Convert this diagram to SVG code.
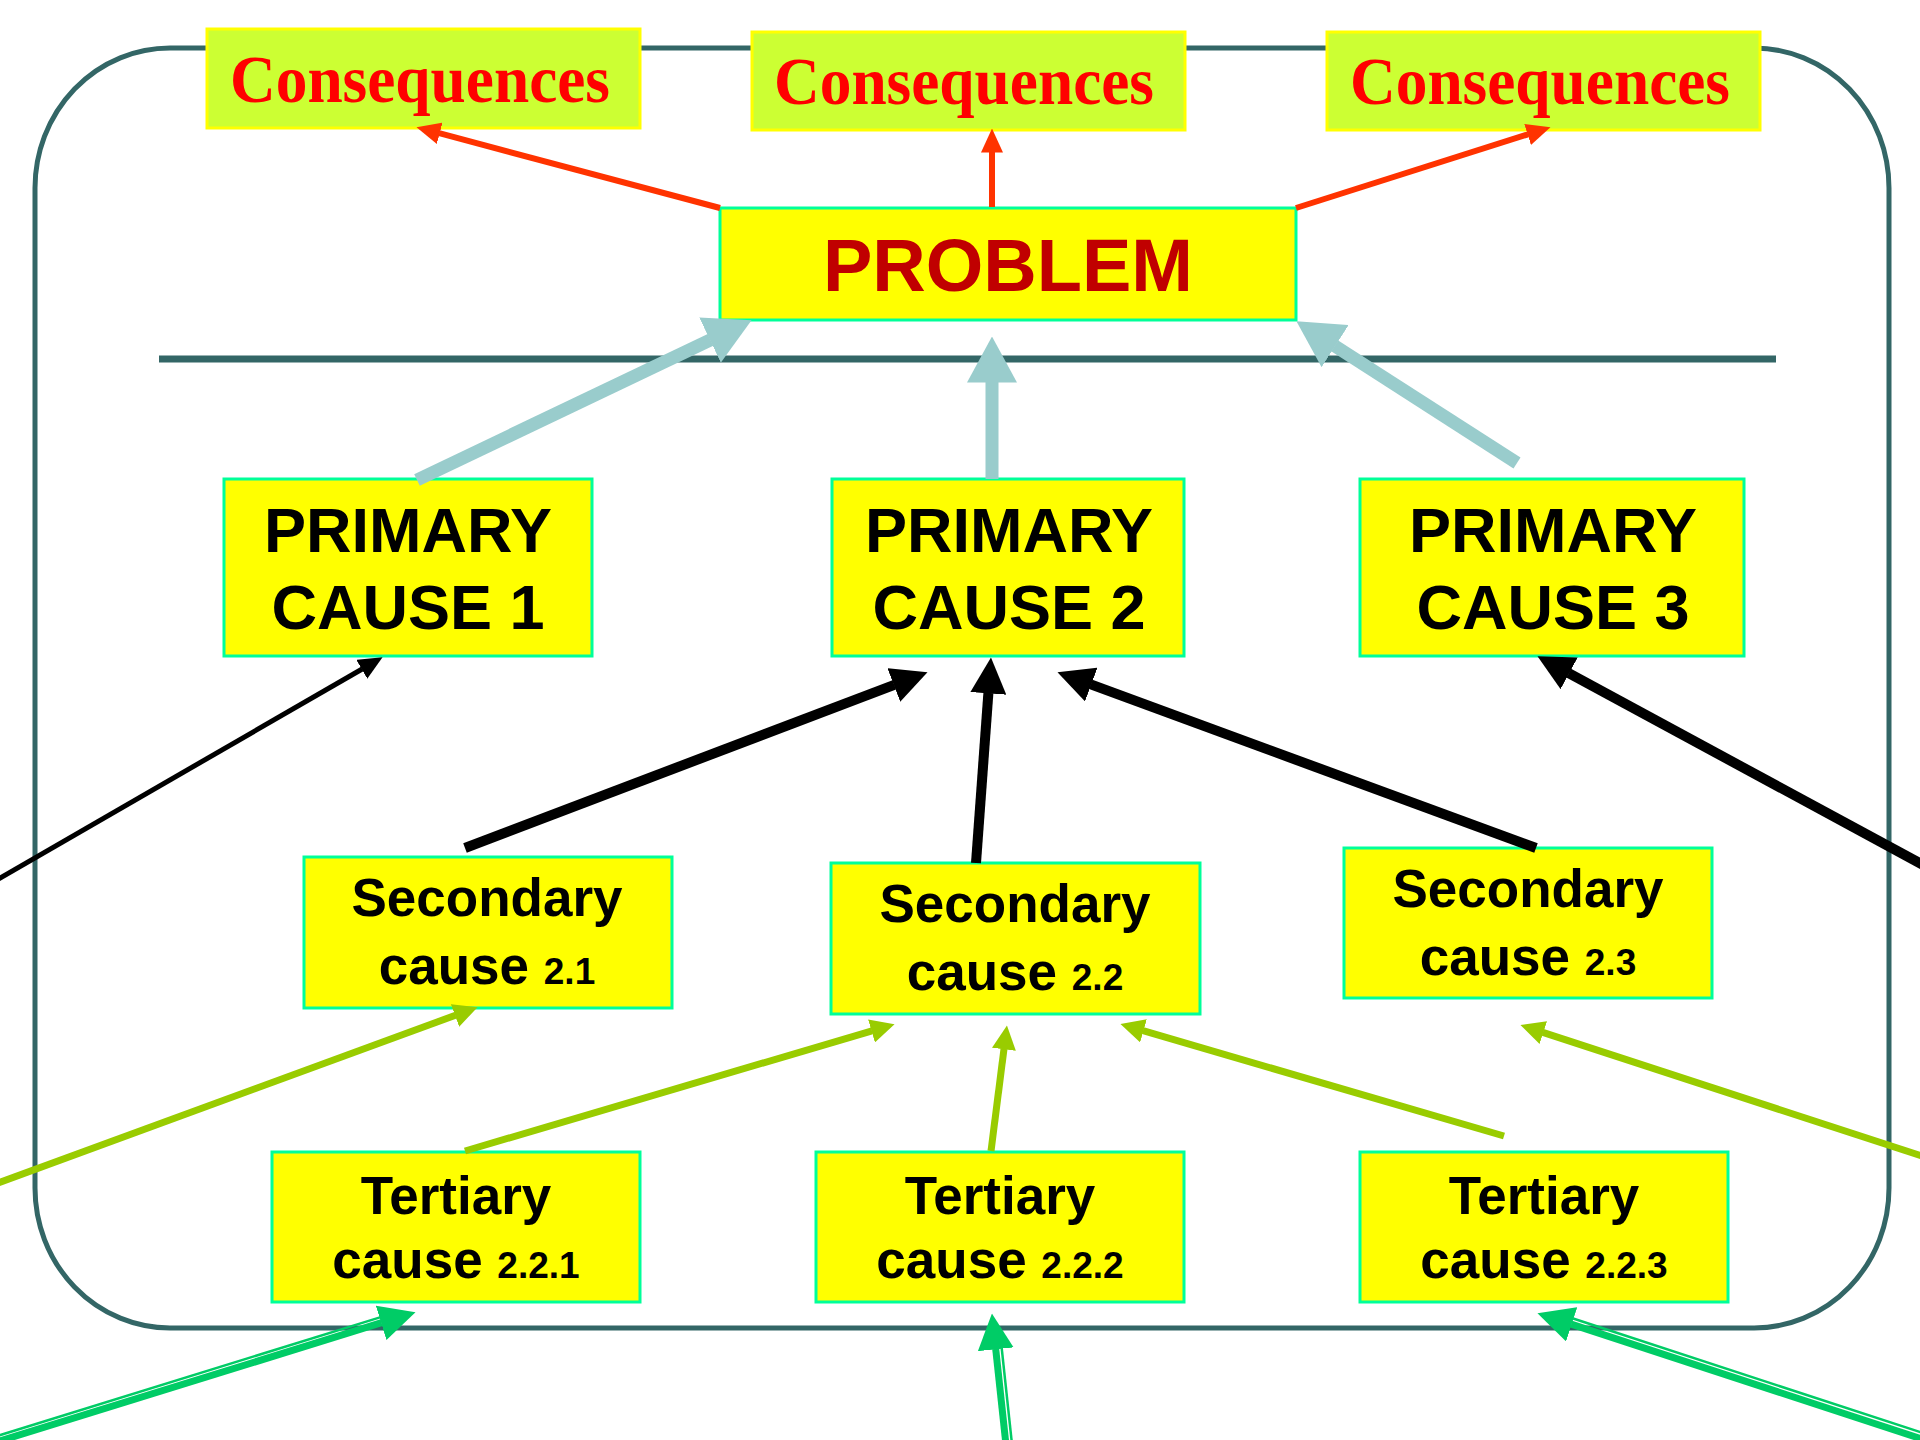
<svg xmlns="http://www.w3.org/2000/svg" width="1920" height="1440" viewBox="0 0 1920 1440">
  <style>
    .frame { fill: none; stroke: #336666; stroke-width: 5; }
    .divider { stroke: #336666; stroke-width: 7; }
    .cons rect { fill: #ccff33; stroke: #ffff00; stroke-width: 3; }
    .cons text { font-family: "Liberation Serif", "Times New Roman", serif; font-weight: bold; font-size: 67px; fill: #ff0000; text-anchor: middle; }
    .node rect { fill: #ffff00; stroke: #00ff99; stroke-width: 3; }
    .node text { font-family: "Liberation Sans", Arial, sans-serif; font-weight: bold; fill: #000000; text-anchor: middle; }
    .problem text { font-size: 74px; fill: #c00000; }
    .primary text { font-size: 63px; }
    .minor text { font-size: 53px; }
    .minor tspan.num { font-size: 37px; }
    .red { stroke: #ff3300; stroke-width: 6; marker-end: url(#ah-red); }
    .blue { stroke: #99cccc; stroke-width: 13; marker-end: url(#ah-blue); }
    .black-thin { stroke: #000000; stroke-width: 5; marker-end: url(#ah-black-s); }
    .black { stroke: #000000; stroke-width: 10; marker-end: url(#ah-black); }
    .lime { stroke: #99cc00; stroke-width: 7; marker-end: url(#ah-lime); }
    .green { stroke: #00cc66; stroke-width: 7; marker-end: url(#ah-green); }
    .green-thin { stroke: #00cc66; stroke-width: 2.5; }
  </style>
  <defs>
    <marker id="ah-red" markerUnits="userSpaceOnUse" viewBox="0 0 24 22" markerWidth="24" markerHeight="22" refX="0.5" refY="11" orient="auto">
      <path d="M0,0 L24,11 L0,22 z" fill="#ff3300"/>
    </marker>
    <marker id="ah-blue" markerUnits="userSpaceOnUse" viewBox="0 0 46 50" markerWidth="46" markerHeight="50" refX="0.5" refY="25" orient="auto">
      <path d="M0,0 L46,25 L0,50 z" fill="#99cccc"/>
    </marker>
    <marker id="ah-black-s" markerUnits="userSpaceOnUse" viewBox="0 0 24 22" markerWidth="24" markerHeight="22" refX="0.5" refY="11" orient="auto">
      <path d="M0,0 L24,11 L0,22 z" fill="#000000"/>
    </marker>
    <marker id="ah-black" markerUnits="userSpaceOnUse" viewBox="0 0 36 36" markerWidth="36" markerHeight="36" refX="0.5" refY="18" orient="auto">
      <path d="M0,0 L36,18 L0,36 z" fill="#000000"/>
    </marker>
    <marker id="ah-lime" markerUnits="userSpaceOnUse" viewBox="0 0 24 24" markerWidth="24" markerHeight="24" refX="0.5" refY="12" orient="auto">
      <path d="M0,0 L24,12 L0,24 z" fill="#99cc00"/>
    </marker>
    <marker id="ah-green" markerUnits="userSpaceOnUse" viewBox="0 0 36 36" markerWidth="36" markerHeight="36" refX="0.5" refY="18" orient="auto">
      <path d="M0,0 L36,18 L0,36 z" fill="#00cc66"/>
    </marker>
  </defs>

  <rect width="1920" height="1440" fill="#ffffff"/>

  <!-- rounded frame and the divider line under the problem -->
  <rect class="frame" x="35" y="48" width="1854" height="1280" rx="135" ry="140"/>
  <line class="divider" x1="159" y1="359" x2="1776" y2="359"/>

  <!-- consequences -->
  <g id="consequences-1" class="cons">
    <rect x="207" y="29" width="433" height="99"/>
    <text x="420" y="102" textLength="380" lengthAdjust="spacingAndGlyphs">Consequences</text>
  </g>
  <g id="consequences-2" class="cons">
    <rect x="752" y="32" width="433" height="98"/>
    <text x="964" y="104" textLength="380" lengthAdjust="spacingAndGlyphs">Consequences</text>
  </g>
  <g id="consequences-3" class="cons">
    <rect x="1327" y="32" width="433" height="98"/>
    <text x="1540" y="104" textLength="380" lengthAdjust="spacingAndGlyphs">Consequences</text>
  </g>

  <!-- problem -->
  <g id="problem" class="node problem">
    <rect x="720" y="208" width="576" height="112"/>
    <text x="1008" y="291">PROBLEM</text>
  </g>

  <!-- primary causes -->
  <g id="primary-1" class="node primary">
    <rect x="224" y="479" width="368" height="177"/>
    <text x="408" y="552">PRIMARY</text>
    <text x="408" y="629">CAUSE 1</text>
  </g>
  <g id="primary-2" class="node primary">
    <rect x="832" y="479" width="352" height="177"/>
    <text x="1009" y="552">PRIMARY</text>
    <text x="1009" y="629">CAUSE 2</text>
  </g>
  <g id="primary-3" class="node primary">
    <rect x="1360" y="479" width="384" height="177"/>
    <text x="1553" y="552">PRIMARY</text>
    <text x="1553" y="629">CAUSE 3</text>
  </g>

  <!-- secondary causes -->
  <g id="secondary-2-1" class="node minor">
    <rect x="304" y="857" width="368" height="151"/>
    <text x="487" y="916">Secondary</text>
    <text x="487" y="984">cause <tspan class="num">2.1</tspan></text>
  </g>
  <g id="secondary-2-2" class="node minor">
    <rect x="831" y="863" width="369" height="151"/>
    <text x="1015" y="922">Secondary</text>
    <text x="1015" y="990">cause <tspan class="num">2.2</tspan></text>
  </g>
  <g id="secondary-2-3" class="node minor">
    <rect x="1344" y="848" width="368" height="150"/>
    <text x="1528" y="907">Secondary</text>
    <text x="1528" y="975">cause <tspan class="num">2.3</tspan></text>
  </g>

  <!-- tertiary causes -->
  <g id="tertiary-2-2-1" class="node minor">
    <rect x="272" y="1152" width="368" height="150"/>
    <text x="456" y="1214">Tertiary</text>
    <text x="456" y="1278">cause <tspan class="num">2.2.1</tspan></text>
  </g>
  <g id="tertiary-2-2-2" class="node minor">
    <rect x="816" y="1152" width="368" height="150"/>
    <text x="1000" y="1214">Tertiary</text>
    <text x="1000" y="1278">cause <tspan class="num">2.2.2</tspan></text>
  </g>
  <g id="tertiary-2-2-3" class="node minor">
    <rect x="1360" y="1152" width="368" height="150"/>
    <text x="1544" y="1214">Tertiary</text>
    <text x="1544" y="1278">cause <tspan class="num">2.2.3</tspan></text>
  </g>

  <!-- connectors -->
  <g id="connectors">
    <!-- problem to consequences -->
    <line class="red" x1="720" y1="208" x2="439.2" y2="133.2"/>
    <line class="red" x1="992" y1="207" x2="992" y2="152"/>
    <line class="red" x1="1296" y1="208" x2="1528.1" y2="134.3"/>

    <!-- primary causes to problem -->
    <line class="blue" x1="417" y1="480" x2="710.5" y2="339.9"/>
    <line class="blue" x1="992" y1="479" x2="992" y2="382"/>
    <line class="blue" x1="1517" y1="463" x2="1334.7" y2="345.9"/>

    <!-- secondary causes to primary causes -->
    <line class="black-thin" x1="-5" y1="881" x2="362.2" y2="669"/>
    <line class="black" x1="465" y1="848" x2="894.3" y2="684.8"/>
    <line class="black" x1="976" y1="863" x2="988.4" y2="692.9"/>
    <line class="black" x1="1536" y1="848" x2="1090.8" y2="684.4"/>
    <line class="black" x1="1925" y1="866" x2="1568.7" y2="673.1"/>

    <!-- tertiary causes to secondary causes -->
    <line class="lime" x1="-5" y1="1184" x2="455.5" y2="1015.3"/>
    <line class="lime" x1="465" y1="1151" x2="872" y2="1030.8"/>
    <line class="lime" x1="991" y1="1151" x2="1004" y2="1048.8"/>
    <line class="lime" x1="1504" y1="1136" x2="1143" y2="1030.7"/>
    <line class="lime" x1="1925" y1="1157" x2="1542.8" y2="1032.4"/>

    <!-- incoming double-line arrows -->
    <line class="green-thin" x1="-11.6" y1="1438.7" x2="380" y2="1317.4"/>
    <line class="green" x1="-10" y1="1444" x2="381.6" y2="1322.7"/>
    <line class="green-thin" x1="1012" y1="1444.4" x2="1001.7" y2="1348.2"/>
    <line class="green" x1="1006" y1="1445" x2="995.7" y2="1348.8"/>
    <line class="green-thin" x1="1926.9" y1="1434.3" x2="1573.1" y2="1318.5"/>
    <line class="green" x1="1925" y1="1440" x2="1571.2" y2="1324.2"/>
  </g>
</svg>
